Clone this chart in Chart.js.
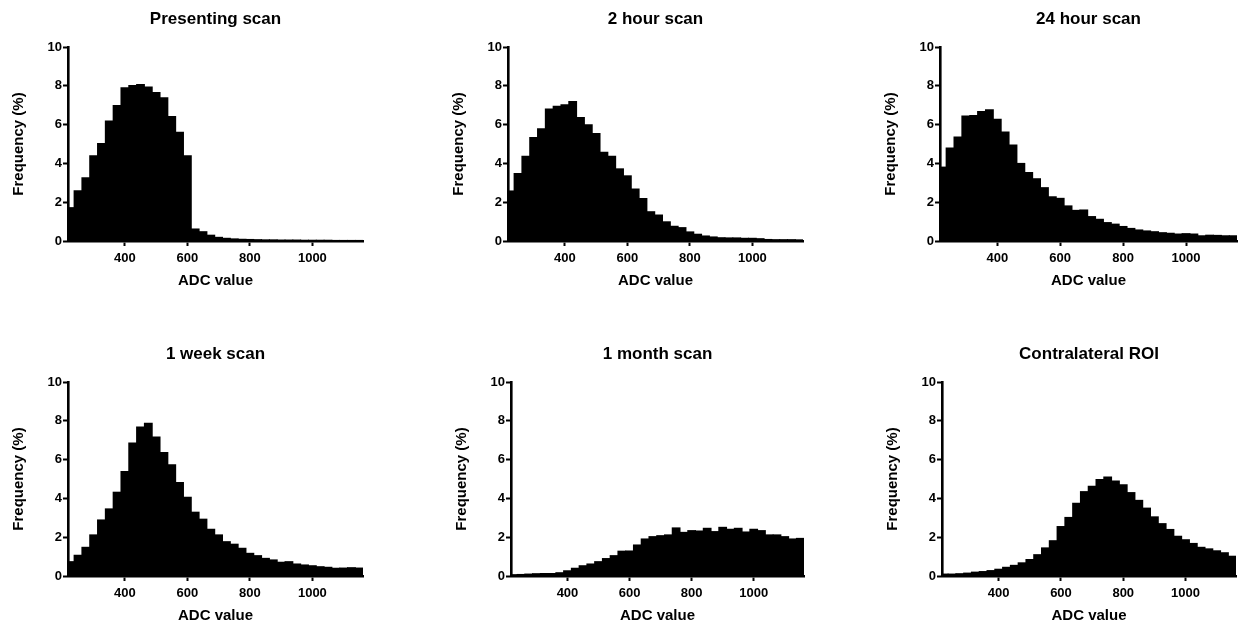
<!DOCTYPE html>
<html>
<head>
<meta charset="utf-8">
<script src="https://cdn.jsdelivr.net/npm/chart.js@4/dist/chart.umd.min.js"></script>
<style>
  html, body { margin: 0; padding: 0; background: #fff; }
  body { width: 1245px; height: 625px; position: relative; overflow: hidden; }
  .panel { position: absolute; }
</style>
</head>
<body>
<script>
// Histogram bin centres (ADC value, bin width 25)
const adcBins = [225, 250, 275, 300, 325, 350, 375, 400, 425, 450, 475, 500, 525, 550, 575, 600,
  625, 650, 675, 700, 725, 750, 775, 800, 825, 850, 875, 900, 925, 950, 975, 1000,
  1025, 1050, 1075, 1100, 1125, 1150];

// Frequency (%) per bin for each scan
const presentingScan = [1.72, 2.59, 3.26, 4.39, 5.03, 6.18, 6.98, 7.90, 8.02, 8.07, 7.94, 7.66, 7.39, 6.42, 5.61, 4.40,
  0.62, 0.48, 0.30, 0.19, 0.14, 0.11, 0.09, 0.08, 0.07, 0.06, 0.06, 0.05, 0.05, 0.05, 0.04, 0.04,
  0.04, 0.04, 0.03, 0.03, 0.03, 0.03];
const twoHourScan = [2.58, 3.48, 4.37, 5.34, 5.78, 6.80, 6.94, 7.02, 7.19, 6.37, 5.99, 5.54, 4.58, 4.37, 3.72, 3.36,
  2.68, 2.19, 1.51, 1.34, 0.99, 0.76, 0.69, 0.47, 0.35, 0.26, 0.21, 0.17, 0.16, 0.16, 0.14, 0.14,
  0.12, 0.08, 0.07, 0.07, 0.07, 0.06];
const dayScan = [3.81, 4.79, 5.36, 6.44, 6.47, 6.68, 6.76, 6.28, 5.62, 4.95, 4.00, 3.53, 3.21, 2.75, 2.28, 2.20,
  1.81, 1.58, 1.60, 1.26, 1.12, 0.95, 0.87, 0.75, 0.65, 0.57, 0.52, 0.48, 0.43, 0.40, 0.36, 0.38,
  0.36, 0.27, 0.30, 0.29, 0.27, 0.27];
const weekScan = [0.74, 1.07, 1.48, 2.12, 2.89, 3.46, 4.32, 5.39, 6.85, 7.68, 7.88, 7.16, 6.37, 5.73, 4.82, 4.06,
  3.29, 2.93, 2.41, 2.12, 1.77, 1.64, 1.43, 1.17, 1.05, 0.91, 0.83, 0.71, 0.74, 0.62, 0.57, 0.53,
  0.48, 0.45, 0.40, 0.41, 0.43, 0.41];
const monthScan = [0.07, 0.08, 0.10, 0.12, 0.13, 0.13, 0.17, 0.27, 0.40, 0.53, 0.62, 0.74, 0.90, 1.05, 1.28, 1.29,
  1.60, 1.91, 2.03, 2.08, 2.12, 2.48, 2.25, 2.34, 2.32, 2.46, 2.29, 2.51, 2.41, 2.46, 2.27, 2.41,
  2.34, 2.12, 2.12, 2.03, 1.91, 1.94];
const contralateralRoi = [0.10, 0.10, 0.12, 0.15, 0.20, 0.23, 0.28, 0.35, 0.45, 0.55, 0.68, 0.85, 1.10, 1.45, 1.82, 2.55,
  3.02, 3.75, 4.35, 4.62, 4.98, 5.10, 4.90, 4.70, 4.30, 3.90, 3.50, 3.05, 2.70, 2.40, 2.05, 1.87,
  1.68, 1.48, 1.40, 1.30, 1.20, 1.02];

const panelTitles = ['Presenting scan', '2 hour scan', '24 hour scan', '1 week scan', '1 month scan', 'Contralateral ROI'];
const panelSeries = [presentingScan, twoHourScan, dayScan, weekScan, monthScan, contralateralRoi];

// Axis ticks and ranges
const xTickValues = [400, 600, 800, 1000];
const yTickStep = 2;
const xRange = [218, 1162];
const yRange = [0, 10];
const xAxisTitle = 'ADC value';
const yAxisTitle = 'Frequency (%)';

// Page placement of each panel: y-axis x, plot right edge, canvas top
const panelPlacement = [
  { axisX: 68,  rightX: 363,  top: 0 },
  { axisX: 508, rightX: 803,  top: 0 },
  { axisX: 940, rightX: 1237, top: 0 },
  { axisX: 68,  rightX: 363,  top: 335 },
  { axisX: 511, rightX: 804,  top: 335 },
  { axisX: 942, rightX: 1236, top: 335 }
];

const FONT = '"Liberation Sans", Arial, Helvetica, sans-serif';
const CANVAS_H = 290;
const Y_SCALE_W = 68;     // width reserved left of the plot
const PLOT_TOP = 47;
const PLOT_BOTTOM = 241;
const TITLE_SIZE = 17;

const axisGrid = { offset: false, drawOnChartArea: false, drawTicks: true, tickLength: 5, tickWidth: 2, tickColor: '#000' };
const axisBorder = { display: true, color: '#000', width: 2.6 };

panelTitles.forEach((title, i) => {
  const place = panelPlacement[i];
  const left = place.axisX - Y_SCALE_W;
  const width = Math.min(1245 - left, place.rightX - left + 17);
  const padRight = width - (place.rightX - left);

  const canvas = document.createElement('canvas');
  canvas.className = 'panel';
  canvas.width = width;
  canvas.height = CANVAS_H;
  canvas.style.left = left + 'px';
  canvas.style.top = place.top + 'px';
  canvas.style.width = width + 'px';
  canvas.style.height = CANVAS_H + 'px';
  document.body.appendChild(canvas);

  const values = panelSeries[i];
  const points = adcBins.map((x, k) => ({ x: x, y: values[k] }));

  new Chart(canvas.getContext('2d'), {
    type: 'bar',
    data: {
      datasets: [{
        data: points,
        backgroundColor: '#000',
        borderWidth: 0,
        barPercentage: 1,
        categoryPercentage: 1,
        inflateAmount: 0.5
      }]
    },
    options: {
      responsive: false,
      animation: false,
      devicePixelRatio: 1,
      layout: { padding: { left: 0, right: padRight, top: 0, bottom: 0 } },
      plugins: {
        legend: { display: false },
        tooltip: { enabled: false },
        title: {
          display: true,
          text: title,
          color: '#000',
          fullSize: false,
          font: { family: FONT, size: TITLE_SIZE, weight: 'bold', lineHeight: 1.2 },
          padding: { top: 19 - TITLE_SIZE * 0.6, bottom: PLOT_TOP - (19 + TITLE_SIZE * 0.6) }
        }
      },
      scales: {
        x: {
          type: 'linear',
          min: xRange[0],
          max: xRange[1],
          offset: false,
          afterBuildTicks: (s) => { s.ticks = xTickValues.map(v => ({ value: v })); },
          afterFit: (s) => { s.height = CANVAS_H - PLOT_BOTTOM; },
          border: axisBorder,
          grid: axisGrid,
          ticks: {
            color: '#000', padding: 5, maxRotation: 0,
            font: { family: FONT, size: 13, weight: 'bold' },
            callback: (v) => String(v)
          },
          title: {
            display: true, text: xAxisTitle, color: '#000',
            font: { family: FONT, size: 15, weight: 'bold' },
            padding: { top: 0, bottom: 0 }
          }
        },
        y: {
          min: yRange[0],
          max: yRange[1],
          afterFit: (s) => { s.width = Y_SCALE_W; },
          border: axisBorder,
          grid: axisGrid,
          ticks: {
            stepSize: yTickStep, color: '#000', padding: 1,
            font: { family: FONT, size: 13, weight: 'bold' }
          },
          title: {
            display: true, text: yAxisTitle, color: '#000',
            font: { family: FONT, size: 15, weight: 'bold' },
            padding: { top: 10, bottom: 0 }
          }
        }
      }
    }
  });
});
</script>
</body>
</html>
